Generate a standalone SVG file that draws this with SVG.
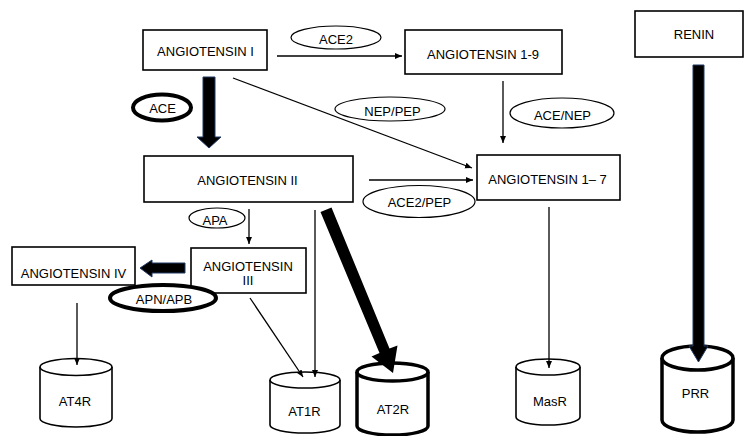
<svg xmlns="http://www.w3.org/2000/svg" width="745" height="436" viewBox="0 0 745 436">
  <style>
    text { font-family: "Liberation Sans", Arial, sans-serif; font-size: 13px; fill: #000; text-anchor: middle; }
    .box { fill: #fff; stroke: #000; stroke-width: 1.6; }
    .enz { fill: #fff; stroke: #000; stroke-width: 1.2; }
    .enz-bold { fill: #fff; stroke: #000; stroke-width: 4; }
    .cyl { fill: #fff; stroke: #000; stroke-width: 1.6; }
    .cyl-bold { fill: #fff; stroke: #000; stroke-width: 3.5; }
    .thin { fill: none; stroke: #000; stroke-width: 1.3; marker-end: url(#tip); }
    .fat { fill: #000; stroke: #1f3864; stroke-width: 1; }
  </style>
  <defs>
    <marker id="tip" markerUnits="userSpaceOnUse" markerWidth="8" markerHeight="8" refX="7" refY="3" orient="auto">
      <path d="M0,0 L7,3 L0,6 Z" fill="#000"/>
    </marker>
  </defs>

  <!-- peptides -->
  <g id="ang1">
    <rect class="box" x="143" y="30" width="124" height="40"/>
    <text x="205.5" y="56">ANGIOTENSIN I</text>
  </g>
  <g id="ang1-9">
    <rect class="box" x="405" y="30" width="157" height="44"/>
    <text x="483" y="59">ANGIOTENSIN 1-9</text>
  </g>
  <g id="renin">
    <rect class="box" x="635" y="11" width="108" height="46"/>
    <text x="694" y="39">RENIN</text>
  </g>
  <g id="ang2">
    <rect class="box" x="144" y="156" width="209" height="46"/>
    <text x="247.5" y="185">ANGIOTENSIN II</text>
  </g>
  <g id="ang1-7">
    <rect class="box" x="477" y="155" width="143" height="45"/>
    <text x="547.5" y="184">ANGIOTENSIN 1– 7</text>
  </g>
  <g id="ang3">
    <rect class="box" x="191" y="248" width="115" height="45"/>
    <text x="248" y="271">ANGIOTENSIN</text>
    <text x="248" y="285">III</text>
  </g>
  <g id="ang4">
    <rect class="box" x="12" y="247" width="123" height="38"/>
    <text x="73.5" y="278">ANGIOTENSIN IV</text>
  </g>

  <!-- enzymes -->
  <g id="ace2">
    <ellipse class="enz" cx="336" cy="37.5" rx="45" ry="11.5"/>
    <text x="336" y="44">ACE2</text>
  </g>
  <g id="ace">
    <ellipse class="enz-bold" cx="162" cy="107.5" rx="29" ry="13"/>
    <text x="162.5" y="113">ACE</text>
  </g>
  <g id="nep-pep">
    <ellipse class="enz" cx="390" cy="109" rx="55" ry="12"/>
    <text x="392.5" y="116">NEP/PEP</text>
  </g>
  <g id="ace-nep">
    <ellipse class="enz" cx="562" cy="113" rx="52" ry="15"/>
    <text x="562.5" y="120">ACE/NEP</text>
  </g>
  <g id="ace2-pep">
    <ellipse class="enz" cx="419" cy="201.5" rx="56" ry="16"/>
    <text x="419.5" y="207">ACE2/PEP</text>
  </g>
  <g id="apa">
    <ellipse class="enz" cx="217" cy="218" rx="28" ry="10"/>
    <text x="215" y="225">APA</text>
  </g>
  <g id="apn-apb">
    <ellipse class="enz-bold" cx="163" cy="298" rx="53" ry="13"/>
    <text x="164" y="304">APN/APB</text>
  </g>

  <!-- receptors -->
  <g id="at4r">
    <path class="cyl" d="M40,367 L40,418.5 A36,8.5 0 0 0 112,418.5 L112,367"/>
    <ellipse class="cyl" cx="76" cy="367" rx="36" ry="8.5"/>
    <text x="75" y="406">AT4R</text>
  </g>
  <g id="at1r">
    <path class="cyl" d="M270,380 L270,425 A35,8 0 0 0 340,425 L340,380"/>
    <ellipse class="cyl" cx="305" cy="380" rx="35" ry="8"/>
    <text x="304.5" y="416">AT1R</text>
  </g>
  <g id="at2r">
    <path class="cyl-bold" d="M357,372 L357,426 A35.5,9 0 0 0 428,426 L428,372"/>
    <ellipse class="cyl-bold" cx="392.5" cy="372" rx="35.5" ry="9"/>
    <text x="393" y="414">AT2R</text>
  </g>
  <g id="masr">
    <path class="cyl" d="M516,367 L516,417 A32,8 0 0 0 580,417 L580,367"/>
    <ellipse class="cyl" cx="548" cy="367" rx="32" ry="8"/>
    <text x="550" y="406">MasR</text>
  </g>
  <g id="prr">
    <path class="cyl-bold" d="M662,358 L662,420 A35.5,12 0 0 0 733,420 L733,358"/>
    <ellipse class="cyl-bold" cx="697.5" cy="358" rx="35.5" ry="12"/>
    <text x="695.5" y="398">PRR</text>
  </g>

  <!-- connectors, drawn last so their heads sit over the receptor tops -->
  <g id="connectors">
    <line class="thin" x1="277" y1="56" x2="402" y2="56"/>
    <line class="thin" x1="233" y1="78" x2="472" y2="168"/>
    <line class="thin" x1="503" y1="81" x2="503" y2="143"/>
    <line class="thin" x1="369" y1="180" x2="473" y2="180"/>
    <line class="thin" x1="249" y1="209" x2="249" y2="244"/>
    <line class="thin" x1="315" y1="210" x2="315" y2="377"/>
    <line class="thin" x1="250" y1="298" x2="303" y2="377"/>
    <line class="thin" x1="549" y1="207" x2="549" y2="368"/>
    <line class="thin" x1="77" y1="303" x2="77" y2="365"/>
    <!-- heavy arrows -->
    <path class="fat" d="M203,77 L215,77 L215,137 L221,137 L209,148 L197,137 L203,137 Z"/>
    <path class="fat" d="M693,65 L704,65 L704,346 L708,346 L698.5,362 L689,346 L693,346 Z"/>
    <path class="fat" d="M185,263 L185,273 L152,273 L152,277 L140,268 L152,260 L152,263 Z"/>
    <path fill="#000" d="M320.5,212 L331.5,207.5 L389.5,348.5 L397.5,345.5 L393,373 L371.5,356.5 L379.5,353 Z"/>
  </g>
</svg>
